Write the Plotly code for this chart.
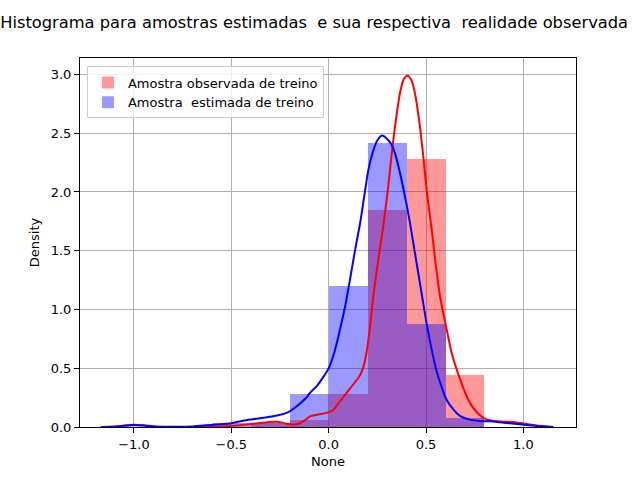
import plotly.graph_objects as go

# Histogram bins (centers, width 0.2) and densities
obs_bin_centers = [-0.3, -0.1, 0.1, 0.3, 0.5, 0.7]
obs_density = [0.03, 0.06, 0.28, 1.85, 2.28, 0.44]
est_bin_centers = [-0.5, -0.3, -0.1, 0.1, 0.3, 0.5, 0.7]
est_density = [0.03, 0.03, 0.28, 1.20, 2.42, 0.88, 0.076]
bin_width = 0.2

# KDE curves
obs_kde_x = [-1.17, -1.10, -1.05, -1.00, -0.95, -0.90, -0.85, -0.75, -0.65, -0.55, -0.49, -0.42,
             -0.353, -0.30, -0.267, -0.235, -0.207, -0.18, -0.15, -0.12, -0.096, -0.06, -0.01,
             0.02, 0.05, 0.092, 0.13, 0.161, 0.18, 0.197, 0.212, 0.229, 0.257, 0.282, 0.304,
             0.322, 0.34, 0.366, 0.385, 0.404, 0.425, 0.443, 0.469, 0.486, 0.503, 0.529, 0.55,
             0.572, 0.606, 0.63, 0.657, 0.685, 0.709, 0.743, 0.777, 0.81, 0.863, 0.90, 0.948,
             1.0, 1.05, 1.10, 1.153]
obs_kde_y = [0.0, 0.004, 0.012, 0.02, 0.014, 0.005, 0.001, 0.0, 0.001, 0.005, 0.01, 0.022,
             0.034, 0.043, 0.045, 0.035, 0.025, 0.02, 0.03, 0.06, 0.09, 0.105, 0.12,
             0.14, 0.20, 0.29, 0.37, 0.44, 0.52, 0.66, 0.85, 1.11, 1.45, 1.73, 2.02,
             2.30, 2.55, 2.84, 2.96, 2.99, 2.95, 2.84, 2.55, 2.30, 2.02, 1.68, 1.38,
             1.11, 0.83, 0.64, 0.49, 0.36, 0.26, 0.16, 0.10, 0.065, 0.05, 0.045, 0.042,
             0.03, 0.018, 0.008, 0.0]

est_kde_x = [-1.17, -1.10, -1.05, -1.00, -0.95, -0.90, -0.85, -0.80, -0.70, -0.66, -0.60, -0.55,
             -0.507, -0.44, -0.38, -0.318, -0.26, -0.216, -0.165, -0.12, -0.096, -0.06, -0.03,
             0.0, 0.03, 0.058, 0.085, 0.109, 0.135, 0.161, 0.185, 0.204, 0.225, 0.25, 0.275,
             0.30, 0.32, 0.34, 0.365, 0.392, 0.415, 0.435, 0.47, 0.503, 0.53, 0.555, 0.58,
             0.606, 0.64, 0.674, 0.72, 0.777, 0.83, 0.88, 0.94, 1.0, 1.06, 1.10, 1.153]
est_kde_y = [0.0, 0.003, 0.01, 0.018, 0.012, 0.004, 0.002, 0.002, 0.005, 0.011, 0.018, 0.024,
             0.03, 0.054, 0.068, 0.082, 0.10, 0.12, 0.175, 0.24, 0.29, 0.35, 0.42,
             0.50, 0.64, 0.83, 1.03, 1.25, 1.50, 1.73, 1.99, 2.19, 2.33, 2.44, 2.48,
             2.45, 2.41, 2.33, 2.17, 1.96, 1.76, 1.56, 1.21, 0.88, 0.65, 0.47, 0.34,
             0.23, 0.15, 0.095, 0.065, 0.052, 0.048, 0.04, 0.03, 0.02, 0.01, 0.004, 0.0]

x_tick_vals = [-1.0, -0.5, 0.0, 0.5, 1.0]
x_tick_text = ["\u22121.0", "\u22120.5", "0.0", "0.5", "1.0"]
y_tick_vals = [0.0, 0.5, 1.0, 1.5, 2.0, 2.5, 3.0]
y_tick_text = ["0.0", "0.5", "1.0", "1.5", "2.0", "2.5", "3.0"]

FONT = "DejaVu Sans"

fig = go.Figure()
fig.add_trace(go.Bar(x=obs_bin_centers, y=obs_density, width=bin_width,
                     marker=dict(color="rgba(255,0,0,0.4)", line=dict(width=0)),
                     name="Amostra observada de treino"))
fig.add_trace(go.Bar(x=est_bin_centers, y=est_density, width=bin_width,
                     marker=dict(color="rgba(0,0,255,0.4)", line=dict(width=0)),
                     name="Amostra\u00a0 estimada de treino"))
fig.add_trace(go.Scatter(x=obs_kde_x, y=obs_kde_y, mode="lines",
                         line=dict(color="red", width=2, shape="spline", smoothing=0.8),
                         showlegend=False))
fig.add_trace(go.Scatter(x=est_kde_x, y=est_kde_y, mode="lines",
                         line=dict(color="blue", width=2, shape="spline", smoothing=0.8),
                         showlegend=False))

axis_common = dict(showline=True, linecolor="black", linewidth=1, mirror=True,
                   ticks="outside", ticklen=5, tickcolor="black", tickwidth=1,
                   showgrid=True, gridcolor="#b0b0b0", gridwidth=1, zeroline=False,
                   tickfont=dict(family=FONT, size=13, color="black"))

fig.update_layout(
    width=640, height=480,
    margin=dict(l=80, r=64, t=58, b=53),
    paper_bgcolor="white", plot_bgcolor="white",
    barmode="overlay", bargap=0,
    font=dict(family=FONT, size=13, color="black"),
    title=dict(text="Histograma para amostras estimadas\u00a0 e sua respectiva\u00a0 realidade observada",
               x=0.472, xref="paper", xanchor="center",
               y=1 - 22 / 480, yref="container", yanchor="middle",
               font=dict(family=FONT, size=16.3, color="black")),
    xaxis=dict(range=[-1.277, 1.27], tickvals=x_tick_vals, ticktext=x_tick_text,
               title=dict(text="None", font=dict(family=FONT, size=13), standoff=6),
               **axis_common),
    yaxis=dict(range=[0, 3.14], tickvals=y_tick_vals, ticktext=y_tick_text,
               title=dict(text="Density", font=dict(family=FONT, size=13), standoff=8),
               **axis_common),
    legend=dict(x=0.014, y=0.977, xanchor="left", yanchor="top",
                bgcolor="rgba(255,255,255,0.8)", bordercolor="#cccccc", borderwidth=1,
                font=dict(family=FONT, size=13, color="black"),
                tracegroupgap=0, itemsizing="constant"),
)

fig.write_html("out.html")
